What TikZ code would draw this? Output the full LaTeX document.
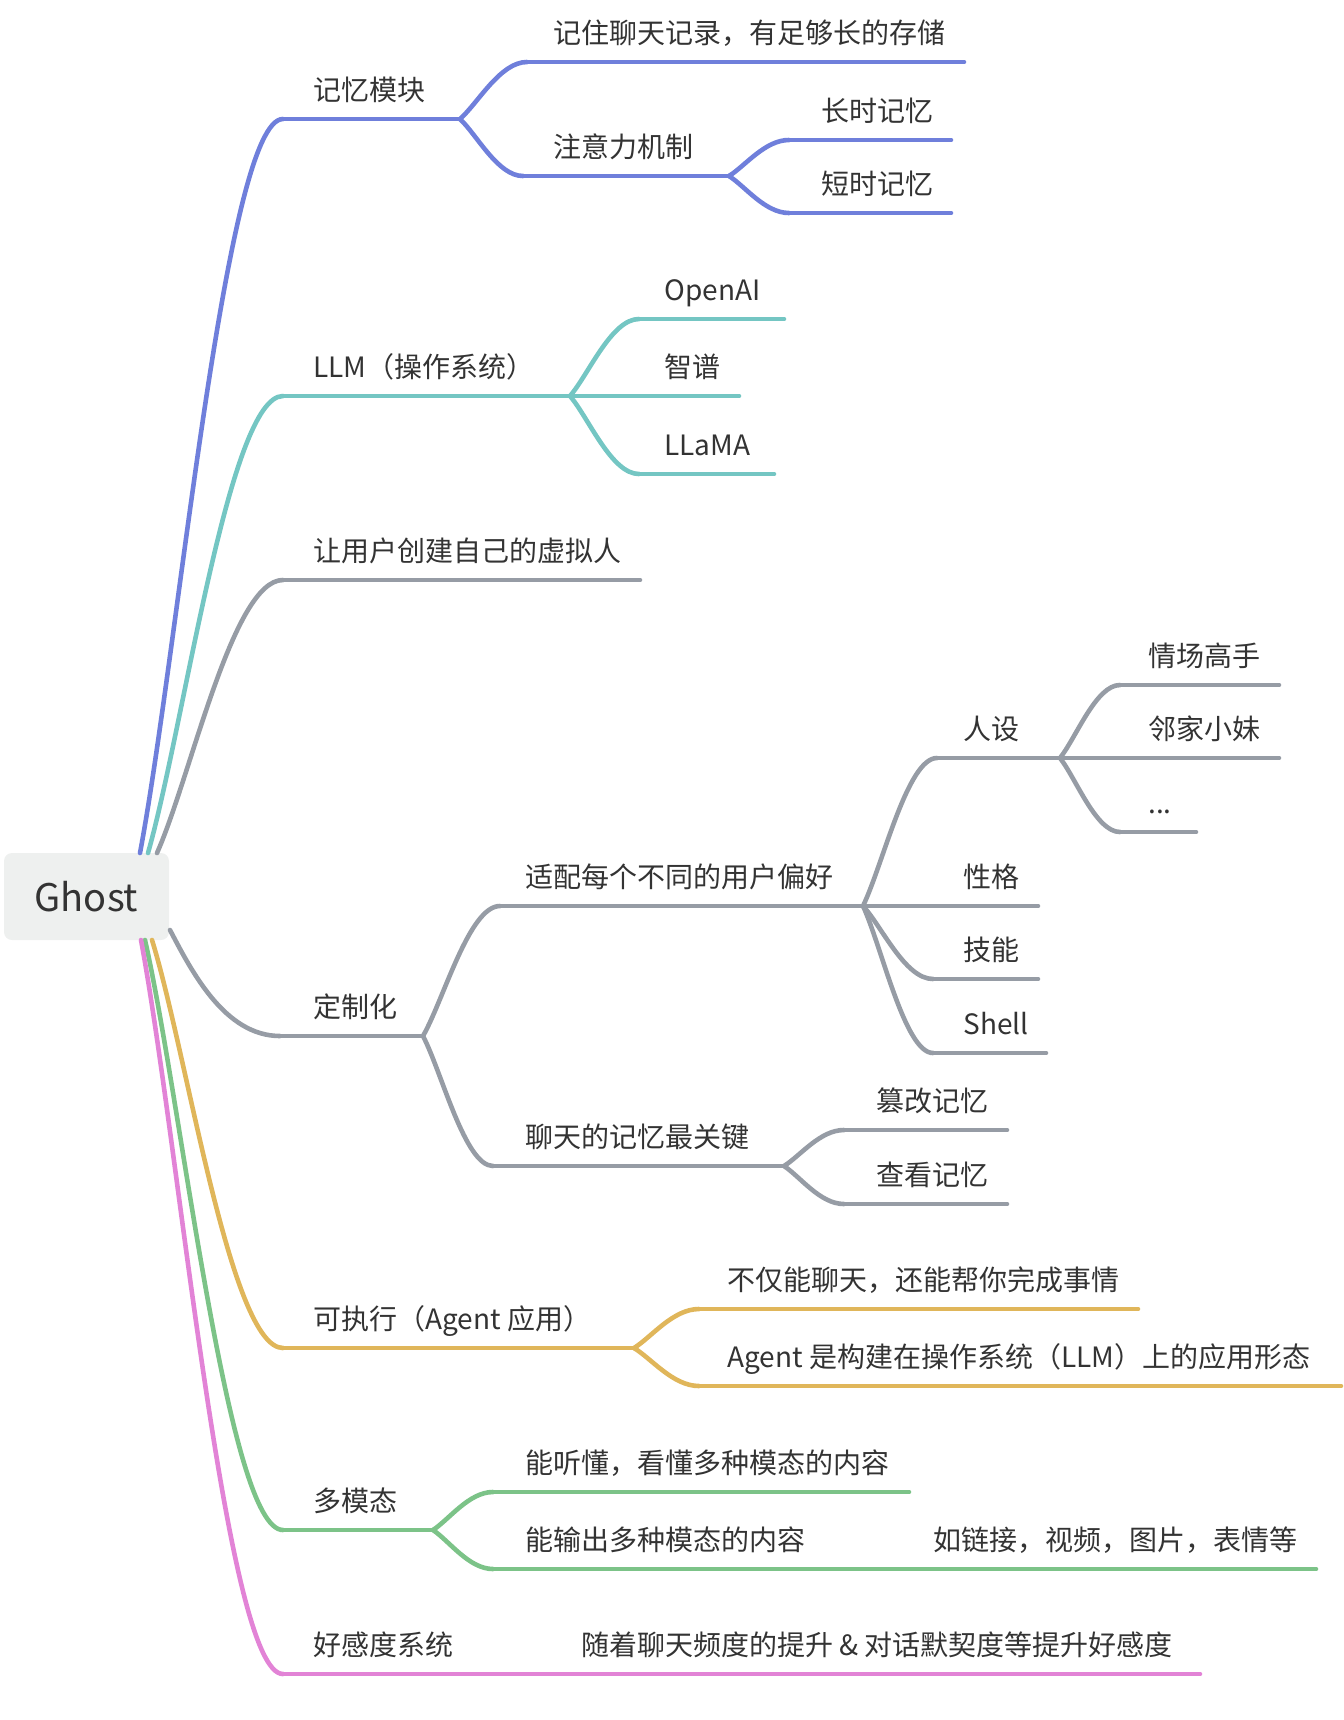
\documentclass[tikz,border=0pt]{standalone}
\usepackage{fontspec}
\setmainfont{Noto Sans CJK SC}
\usetikzlibrary{calc}
\definecolor{cblue}{HTML}{6F7FDB}
\definecolor{cteal}{HTML}{74C6C3}
\definecolor{cgray}{HTML}{969CA5}
\definecolor{cgold}{HTML}{E0B65A}
\definecolor{cgreen}{HTML}{7CC388}
\definecolor{cpink}{HTML}{E283D6}
\definecolor{ctext}{HTML}{333333}
\definecolor{cbox}{HTML}{EEF0EF}
\tikzset{
  mm/.style={line width=2.3pt, line cap=round},
  lbl/.style={anchor=base west, inner sep=0pt, text=ctext, font=\fontsize{14pt}{16pt}\selectfont},
  rootbox/.style={fill=cbox, rounded corners=4pt, minimum width=82.5pt, minimum height=43.5pt, inner sep=0pt, text=ctext, font=\fontsize{19pt}{22pt}\selectfont}
}
\newcommand\mmlink[3]{\draw[mm,#1] let \p1=(#2), \p2=(#3) in (\p1) .. controls ({\x1+0.27*(\x2-\x1)},{\y1+0.28*(\y2-\y1)}) and ({\x1+0.6*(\x2-\x1)},{\y2}) .. (\p2);}
\begin{document}
\begin{tikzpicture}[x=0.5pt,y=-0.5pt]
\useasboundingbox (0,0) rectangle (1344,1720);
% root
\node[rootbox] (ghost) at (86.5,896.5) {Ghost};
\coordinate (rBlue) at (140,853);
\coordinate (rTeal) at (148,853);
\coordinate (rGray) at (157,853);
\coordinate (rCust) at (170,930);
\coordinate (rGold) at (152,940);
\coordinate (rGreen) at (145,940);
\coordinate (rPink) at (141,940);

% ---------- 记忆模块 ----------
\coordinate (memS) at (283,119); \coordinate (memJ) at (460,119);
\coordinate (recS) at (527,62);  \coordinate (recE) at (964,62);
\coordinate (attS) at (523,176); \coordinate (attJ) at (729,176);
\coordinate (lngS) at (789,140); \coordinate (lngE) at (951,140);
\coordinate (shtS) at (789,213); \coordinate (shtE) at (951,213);
\mmlink{cblue}{rBlue}{memS}
\draw[mm,cblue] (memS) -- (memJ);
\mmlink{cblue}{memJ}{recS} \draw[mm,cblue] (recS) -- (recE);
\mmlink{cblue}{memJ}{attS} \draw[mm,cblue] (attS) -- (attJ);
\mmlink{cblue}{attJ}{lngS} \draw[mm,cblue] (lngS) -- (lngE);
\mmlink{cblue}{attJ}{shtS} \draw[mm,cblue] (shtS) -- (shtE);
\node[lbl] (mem) at (313,100) {记忆模块};
\node[lbl] (rec) at (553,43) {记住聊天记录，有足够长的存储};
\node[lbl] (att) at (553,157) {注意力机制};
\node[lbl] (lng) at (821,121) {长时记忆};
\node[lbl] (sht) at (821,194) {短时记忆};

% ---------- LLM ----------
\coordinate (llmS) at (283,396); \coordinate (llmJ) at (570,396);
\coordinate (oaiS) at (639,319); \coordinate (oaiE) at (784,319);
\coordinate (zpE) at (739,396);
\coordinate (lmaS) at (639,474); \coordinate (lmaE) at (774,474);
\mmlink{cteal}{rTeal}{llmS}
\draw[mm,cteal] (llmS) -- (llmJ);
\mmlink{cteal}{llmJ}{oaiS} \draw[mm,cteal] (oaiS) -- (oaiE);
\draw[mm,cteal] (llmJ) -- (zpE);
\mmlink{cteal}{llmJ}{lmaS} \draw[mm,cteal] (lmaS) -- (lmaE);
\node[lbl] (llm) at (313,377) {LLM（操作系统）};
\node[lbl] (oai) at (664,300) {OpenAI};
\node[lbl] (zp) at (664,377) {智谱};
\node[lbl] (lma) at (664,455) {LLaMA};

% ---------- 让用户创建 ----------
\coordinate (usrS) at (283,580); \coordinate (usrE) at (640,580);
\mmlink{cgray}{rGray}{usrS}
\draw[mm,cgray] (usrS) -- (usrE);
\node[lbl] (usr) at (313,561) {让用户创建自己的虚拟人};

% ---------- 定制化 ----------
\coordinate (cusS) at (280,1036); \coordinate (cusJ) at (423,1036);
\coordinate (adpS) at (500,906);  \coordinate (adpJ) at (863,906);
\coordinate (perS) at (937,758);  \coordinate (perJ) at (1060,758);
\coordinate (q1S) at (1120,685);  \coordinate (q1E) at (1279,685);
\coordinate (q2E) at (1279,758);
\coordinate (q3S) at (1120,832);  \coordinate (q3E) at (1196,832);
\coordinate (trE) at (1038,906);
\coordinate (skS) at (933,979);   \coordinate (skE) at (1038,979);
\coordinate (shS) at (933,1053);  \coordinate (shE) at (1046,1053);
\coordinate (chtS) at (493,1166); \coordinate (chtJ) at (784,1166);
\coordinate (tmS) at (844,1130);  \coordinate (tmE) at (1007,1130);
\coordinate (vwS) at (844,1204);  \coordinate (vwE) at (1007,1204);
\draw[mm,cgray] (rCust) .. controls (192,972) and (225,1036) .. (cusS);
\draw[mm,cgray] (cusS) -- (cusJ);
\mmlink{cgray}{cusJ}{adpS} \draw[mm,cgray] (adpS) -- (adpJ);
\mmlink{cgray}{adpJ}{perS} \draw[mm,cgray] (perS) -- (perJ);
\mmlink{cgray}{perJ}{q1S} \draw[mm,cgray] (q1S) -- (q1E);
\draw[mm,cgray] (perJ) -- (q2E);
\mmlink{cgray}{perJ}{q3S} \draw[mm,cgray] (q3S) -- (q3E);
\draw[mm,cgray] (adpJ) -- (trE);
\mmlink{cgray}{adpJ}{skS} \draw[mm,cgray] (skS) -- (skE);
\mmlink{cgray}{adpJ}{shS} \draw[mm,cgray] (shS) -- (shE);
\mmlink{cgray}{cusJ}{chtS} \draw[mm,cgray] (chtS) -- (chtJ);
\mmlink{cgray}{chtJ}{tmS} \draw[mm,cgray] (tmS) -- (tmE);
\mmlink{cgray}{chtJ}{vwS} \draw[mm,cgray] (vwS) -- (vwE);
\node[lbl] (cus) at (313,1017) {定制化};
\node[lbl] (adp) at (525,887) {适配每个不同的用户偏好};
\node[lbl] (per) at (963,739) {人设};
\node[lbl] (q1) at (1148,666) {情场高手};
\node[lbl] (q2) at (1148,739) {邻家小妹};
\node[lbl] (q3) at (1148,813) {...};
\node[lbl] (tr) at (963,887) {性格};
\node[lbl] (sk) at (963,960) {技能};
\node[lbl] (sh) at (963,1034) {Shell};
\node[lbl] (cht) at (525,1147) {聊天的记忆最关键};
\node[lbl] (tm) at (876,1111) {篡改记忆};
\node[lbl] (vw) at (876,1185) {查看记忆};

% ---------- 可执行 ----------
\coordinate (exS) at (283,1348); \coordinate (exJ) at (634,1348);
\coordinate (e1S) at (699,1309); \coordinate (e1E) at (1138,1309);
\coordinate (e2S) at (699,1386); \coordinate (e2E) at (1341,1386);
\mmlink{cgold}{rGold}{exS}
\draw[mm,cgold] (exS) -- (exJ);
\mmlink{cgold}{exJ}{e1S} \draw[mm,cgold] (e1S) -- (e1E);
\mmlink{cgold}{exJ}{e2S} \draw[mm,cgold] (e2S) -- (e2E);
\node[lbl] (ex) at (313,1329) {可执行（Agent 应用）};
\node[lbl] (e1) at (727,1290) {不仅能聊天，还能帮你完成事情};
\node[lbl] (e2) at (727,1367) {Agent 是构建在操作系统（LLM）上的应用形态};

% ---------- 多模态 ----------
\coordinate (muS) at (283,1530); \coordinate (muJ) at (433,1530);
\coordinate (m1S) at (493,1492); \coordinate (m1E) at (909,1492);
\coordinate (m2S) at (493,1569); \coordinate (m2J) at (822,1569);
\coordinate (m3E) at (1316,1569);
\mmlink{cgreen}{rGreen}{muS}
\draw[mm,cgreen] (muS) -- (muJ);
\mmlink{cgreen}{muJ}{m1S} \draw[mm,cgreen] (m1S) -- (m1E);
\mmlink{cgreen}{muJ}{m2S} \draw[mm,cgreen] (m2S) -- (m2J);
\draw[mm,cgreen] (m2J) -- (m3E);
\node[lbl] (mu) at (313,1511) {多模态};
\node[lbl] (m1) at (525,1473) {能听懂，看懂多种模态的内容};
\node[lbl] (m2) at (525,1550) {能输出多种模态的内容};
\node[lbl] (m3) at (933,1550) {如链接，视频，图片，表情等};

% ---------- 好感度系统 ----------
\coordinate (fvS) at (283,1674); \coordinate (fvJ) at (467,1674);
\coordinate (fcE) at (1200,1674);
\mmlink{cpink}{rPink}{fvS}
\draw[mm,cpink] (fvS) -- (fvJ);
\draw[mm,cpink] (fvJ) -- (fcE);
\node[lbl] (fv) at (313,1655) {好感度系统};
\node[lbl] (fc) at (581,1655) {随着聊天频度的提升 \& 对话默契度等提升好感度};
\end{tikzpicture}
\end{document}
